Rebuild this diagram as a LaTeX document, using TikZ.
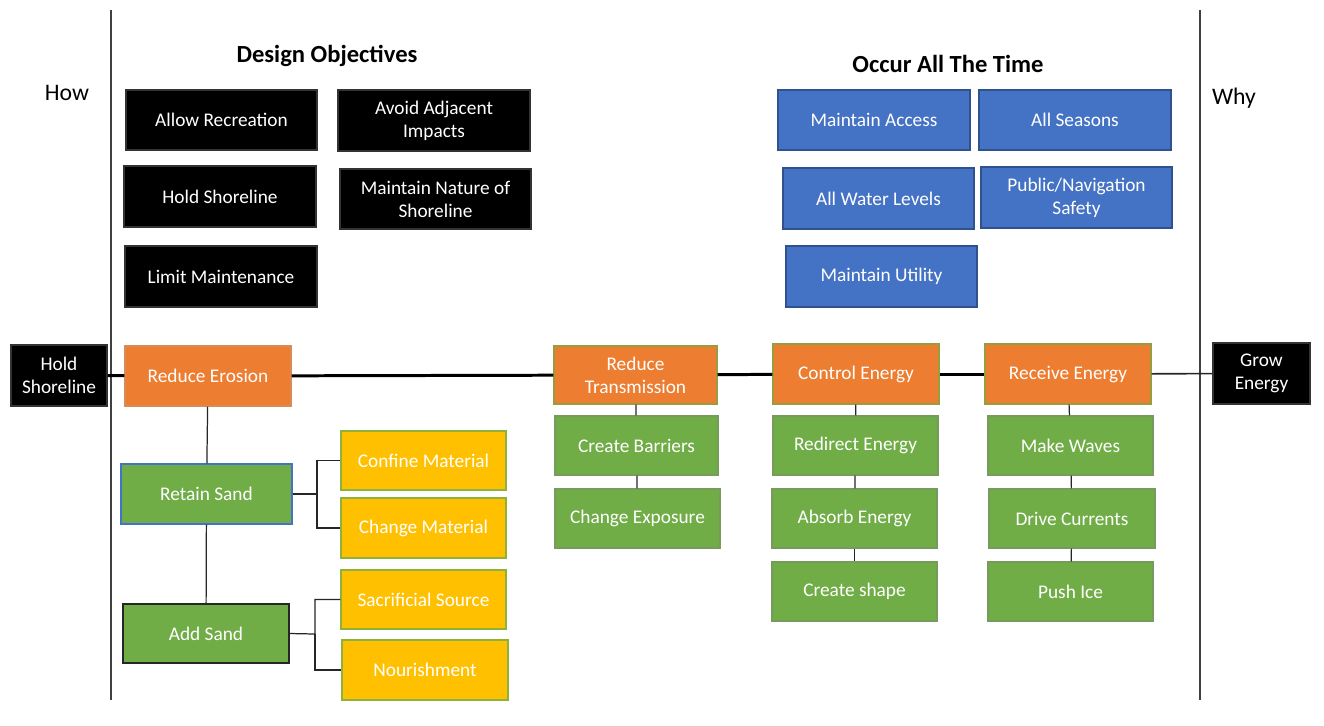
\documentclass[tikz,border=0pt]{standalone}
\usepackage{fontspec}
\setmainfont{Carlito}
\definecolor{cOrange}{HTML}{ED7D31}
\definecolor{cOrangeB}{HTML}{C55A11}
\definecolor{cGreen}{HTML}{70AD47}
\definecolor{cGreenB}{HTML}{548235}
\definecolor{cBlue}{HTML}{4472C4}
\definecolor{cBlueB}{HTML}{2F528F}
\definecolor{cYellow}{HTML}{FFC000}
\definecolor{cLine}{HTML}{404040}
\begin{document}
\begin{tikzpicture}[x=0.02cm,y=-0.02cm,
  sz/.style 2 args={minimum width=#1*0.02cm, minimum height=#2*0.02cm},
  bx/.style={rectangle, inner sep=1pt, align=center, text=white, font=\fontsize{11}{13}\selectfont, line width=0.6pt},
  blk/.style={bx, fill=black, draw=black!80},
  blu/.style={bx, fill=cBlue, draw=cBlueB},
  org/.style={bx, fill=cOrange, draw=cGreen!70!cOrange},
  grn/.style={bx, fill=cGreen, draw=cGreenB!80},
  ylw/.style={bx, fill=cYellow, draw=cGreen!80!cYellow},
  conn/.style={draw=black!85, line width=0.7pt},
  mainln/.style={draw=black, line width=1.7pt},
  vline/.style={draw=cLine, line width=0.9pt},
  hdr/.style={font=\fontsize{14}{16}\selectfont\bfseries},
  side/.style={font=\fontsize{13.5}{16}\selectfont}]
\useasboundingbox (0,0) rectangle (1324,725);
\fill[white] (0,0) rectangle (1324,725);

% vertical separators
\coordinate (vl1) at (111,10); \coordinate (vl2) at (111,700);
\coordinate (vr1) at (1200,10); \coordinate (vr2) at (1200,700);
\draw[vline] (vl1) -- (vl2);
\draw[vline] (vr1) -- (vr2);

% side labels and headers
\node[side] (how) at (67,93) {How};
\node[side] (why) at (1234,98) {Why};
\node[hdr] (dobj) at (327,56) {Design Objectives};
\node[hdr] (occur) at (948,64) {Occur All The Time};

% design objectives
\node[blk, sz={191}{60}] (allow) at (221.5,120) {Allow Recreation};
\node[blk, sz={192}{61}] (avoid) at (434,120.5) {Avoid Adjacent\\Impacts};
\node[blk, sz={192}{61}] (holdo) at (220,196.5) {Hold Shoreline};
\node[blk, sz={191}{60}] (nature) at (435.5,199) {Maintain Nature of\\Shoreline};
\node[blk, sz={192}{61}] (limit) at (221,276.5) {Limit Maintenance};

% occur all the time
\node[blu, sz={192}{60}] (access) at (874,120) {Maintain Access};
\node[blu, sz={192}{60}] (seasons) at (1075,120) {All Seasons};
\node[blu, sz={191}{61}] (water) at (878.5,198.5) {All Water Levels};
\node[blu, sz={191}{61}] (public) at (1076.5,197.5) {Public/Navigation\\Safety};
\node[blu, sz={191}{61}] (utility) at (881.5,276.5) {Maintain Utility};

% main chain
\node[blk, sz={96}{61}] (hold) at (59,375.5) {Hold\\Shoreline};
\node[blk, sz={97}{61}] (grow) at (1261.5,373.5) {Grow\\Energy};
\node[org, sz={166}{60}, draw=cOrangeB!70] (erosion) at (208,376) {Reduce Erosion};
\node[org, sz={163}{58}] (trans) at (635.5,375) {Reduce\\Transmission};
\node[org, sz={166}{60}] (control) at (856,374) {Control Energy};
\node[org, sz={166}{60}] (receive) at (1068,374) {Receive Energy};

% green boxes
\node[grn, sz={171}{60}, draw=cBlue] (retain) at (206.5,494) {Retain Sand};
\node[grn, sz={166}{59}, draw=black!85, line width=0.8pt] (add) at (206,633.5) {Add Sand};
\node[grn, sz={163}{59}] (barriers) at (636.5,445.5) {Create Barriers};
\node[grn, sz={165}{59}] (exposure) at (637.5,518.5) {Change Exposure};
\node[grn, sz={165}{59}] (redirect) at (855.5,445.5) {Redirect Energy};
\node[grn, sz={165}{59}] (absorb) at (854.5,518.5) {Absorb Energy};
\node[grn, sz={165}{59}] (shape) at (854.5,591.5) {Create shape};
\node[grn, sz={165}{59}] (waves) at (1070.5,445.5) {Make Waves};
\node[grn, sz={166}{59}] (currents) at (1072,518.5) {Drive Currents};
\node[grn, sz={165}{59}] (ice) at (1070.5,591.5) {Push Ice};

% yellow boxes
\node[ylw, sz={165}{59}] (confine) at (423.5,460.5) {Confine Material};
\node[ylw, sz={165}{60}] (change) at (423.5,528) {Change Material};
\node[ylw, sz={165}{59}] (sacr) at (423.5,599.5) {Sacrificial Source};
\node[ylw, sz={166}{60}] (nourish) at (425,670) {Nourishment};

% main line
\draw[mainln] (hold) -- (erosion);
\draw[mainln] (erosion) -- (trans);
\draw[mainln] (trans) -- (control);
\draw[mainln] (control) -- (receive);
\draw[conn, line width=0.9pt] (receive) -- (grow);

% vertical connectors
\draw[conn] (erosion) -- (retain);
\draw[conn] (retain) -- (add);
\draw[conn] (trans) -- (barriers);
\draw[conn] (barriers) -- (exposure);
\draw[conn] (control) -- (redirect);
\draw[conn] (redirect) -- (absorb);
\draw[conn] (absorb) -- (shape);
\draw[conn] (receive) -- (waves);
\draw[conn] (waves) -- (currents);
\draw[conn] (currents) -- (ice);

% brackets
\coordinate (b1) at (317,494);
\draw[conn] (retain.east) -- (b1) |- (confine.west);
\draw[conn] (b1) |- (change.west);
\coordinate (b2) at (315,634);
\draw[conn] (add.east) -- (b2) |- (sacr.west);
\draw[conn] (b2) |- (nourish.west);
\end{tikzpicture}
\end{document}
